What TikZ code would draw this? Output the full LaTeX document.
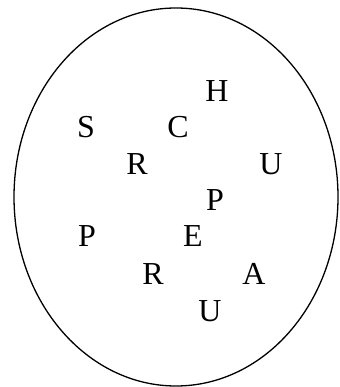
\documentclass[tikz,border=0pt]{standalone}
\usepackage{fontspec}
\setmainfont{Liberation Serif}
\begin{document}
\begin{tikzpicture}[x=1pt,y=1pt,
  letter/.style={anchor=base,inner sep=0pt,font=\fontsize{32}{32}\selectfont}]
\useasboundingbox (0,0) rectangle (339,387);
\draw[line width=1.3pt] (176,190) ellipse [x radius=162, y radius=189];
\node[letter] (h)  at (217,285.5) {H};
\node[letter] (s)  at (86,249.5) {S};
\node[letter] (c)  at (178,249.5) {C};
\node[letter] (r1) at (137,212) {R};
\node[letter] (u1) at (271,212) {U};
\node[letter] (p1) at (215,176) {P};
\node[letter] (p2) at (87,140) {P};
\node[letter] (e)  at (193,140) {E};
\node[letter] (r2) at (153,102) {R};
\node[letter] (a)  at (254,102) {A};
\node[letter] (u2) at (210,65.5) {U};
\end{tikzpicture}
\end{document}
